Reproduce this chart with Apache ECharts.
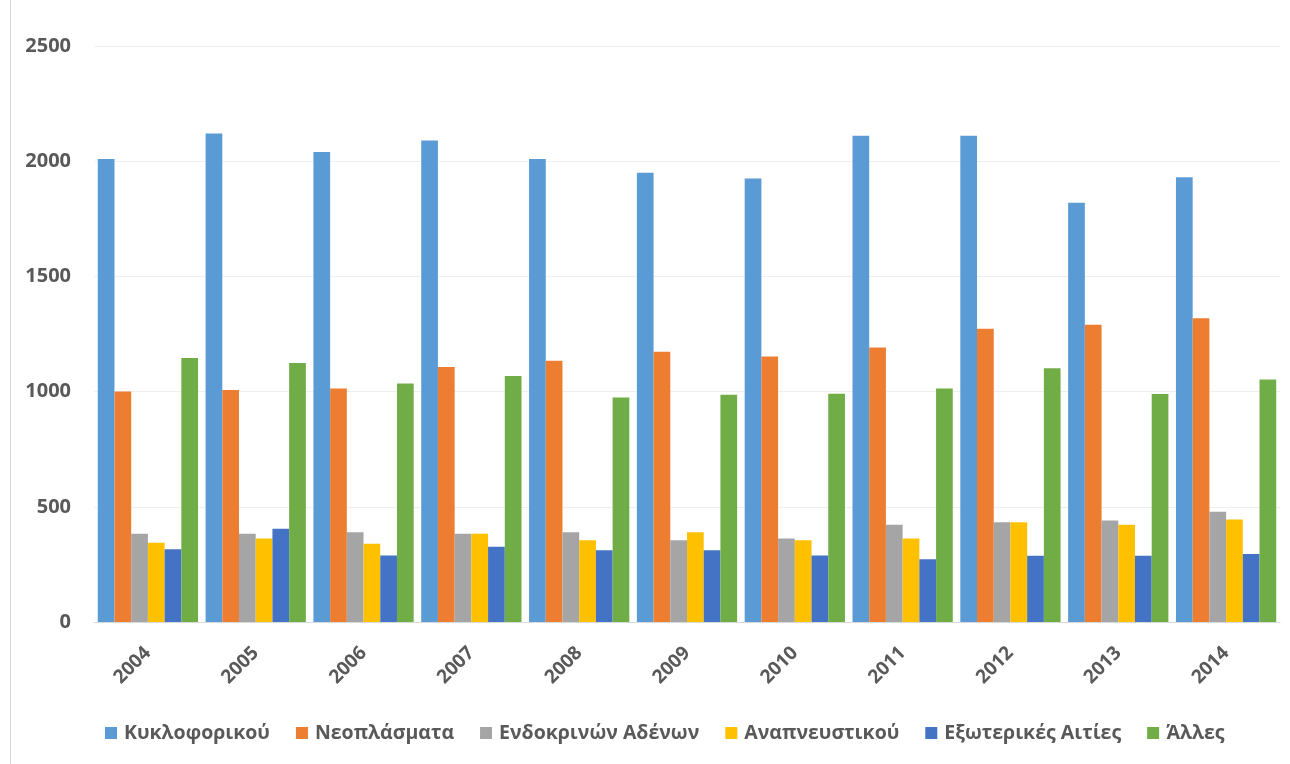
<!DOCTYPE html>
<html><head><meta charset="utf-8">
<script src="https://cdn.jsdelivr.net/npm/echarts@6/dist/echarts.min.js"></script>
<style>html,body{margin:0;padding:0;background:#fff}#c{width:1290px;height:764px}</style>
</head><body><div id="c"></div>
<script>
const years = ['2004','2005','2006','2007','2008','2009','2010','2011','2012','2013','2014'];
const seriesNames = ['Κυκλοφορικού','Νεοπλάσματα','Ενδοκρινών Αδένων','Αναπνευστικού','Εξωτερικές Αιτίες','Άλλες'];
const kykloforikou = [2010,2120,2040,2090,2010,1950,1925,2110,2110,1820,1930];
const neoplasmata  = [1000,1007,1013,1107,1134,1173,1152,1191,1273,1290,1318];
const endokrinon   = [383,383,389,383,389,355,362,422,433,440,478];
const anapnefstikou= [344,362,340,383,355,389,355,362,433,422,445];
const exoterikes   = [316,405,289,327,311,311,289,272,288,288,295];
const alles        = [1146,1124,1035,1068,974,986,991,1013,1101,990,1052];
const yTicks = [0,500,1000,1500,2000,2500];
const colors = ['#5B9BD5','#ED7D31','#A5A5A5','#FFC000','#4472C4','#70AD47'];
const allData = [kykloforikou,neoplasmata,endokrinon,anapnefstikou,exoterikes,alles];

const chart = echarts.init(document.getElementById('c'));
chart.setOption({
  animation:false,
  backgroundColor:'#fff',
  textStyle:{fontFamily:'"Open Sans", "DejaVu Sans", sans-serif'},
  grid:{left:94,right:10,top:46,bottom:142},
  legend:{
    data:seriesNames, left:100, top:718, itemWidth:12, itemHeight:12, itemGap:26,
    icon:'rect',
    textStyle:{fontSize:19.5,fontWeight:'bold',color:'#595959',padding:[0,0,0,2]}
  },
  xAxis:{
    type:'category', data:years,
    axisLine:{lineStyle:{color:'#D9D9D9',width:1}},
    axisTick:{show:false},
    axisLabel:{rotate:45,fontSize:19,fontWeight:'bold',color:'#595959',margin:28,interval:0}
  },
  yAxis:{
    type:'value', min:yTicks[0], max:yTicks[yTicks.length-1], interval:500,
    axisLine:{show:false}, axisTick:{show:false},
    splitLine:{lineStyle:{color:'#EFEFEF',width:1}},
    axisLabel:{fontSize:20,fontWeight:'bold',color:'#595959',margin:23,formatter:v=>String(v)}
  },
  graphic:[
    {type:'line',shape:{x1:10.5,y1:0,x2:10.5,y2:764},style:{stroke:'#D9D9D9',lineWidth:1}}
  ],
  series: seriesNames.map((n,i)=>({
    name:n, type:'bar', data:allData[i], barGap:'0%', barCategoryGap:'7%',
    itemStyle:{color:colors[i]}
  }))
});
</script></body></html>
